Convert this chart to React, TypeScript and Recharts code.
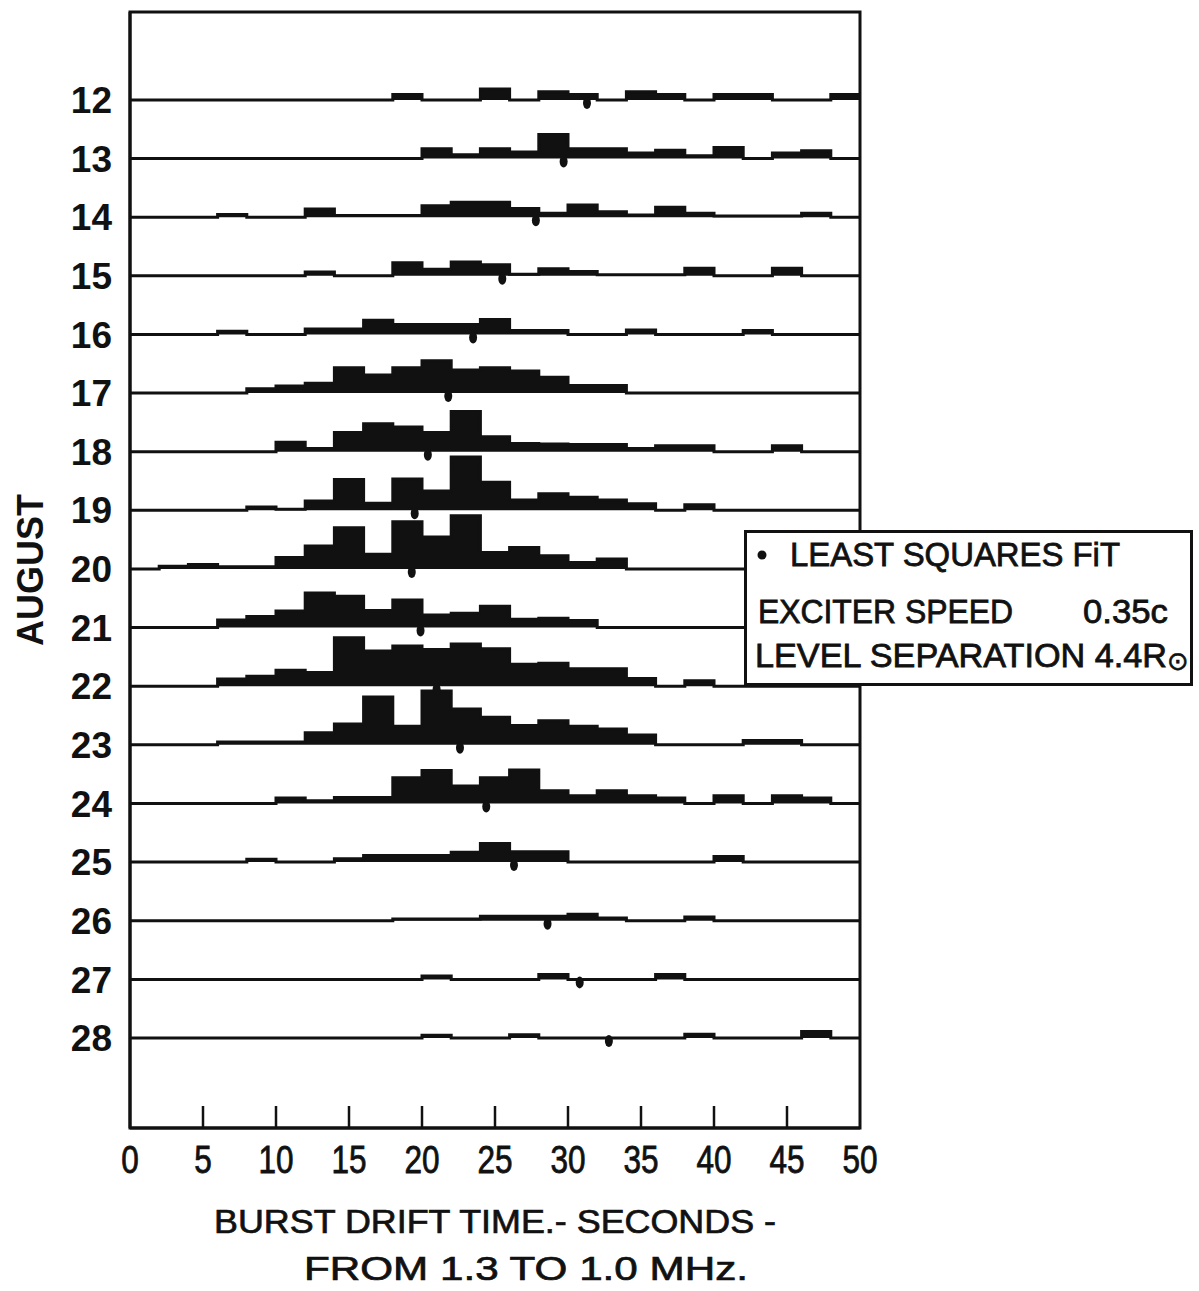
import { ComposedChart, Area, Scatter, XAxis, YAxis, ReferenceArea, Legend, Label } from "recharts";

const FONT = "'Liberation Sans', Arial, sans-serif";
const INK = "#111";

// August days, one histogram row each
const days = [12, 13, 14, 15, 16, 17, 18, 19, 20, 21, 22, 23, 24, 25, 26, 27, 28];

// 2 second bins of burst drift time
const binStarts = [0, 2, 4, 6, 8, 10, 12, 14, 16, 18, 20, 22, 24, 26, 28, 30, 32, 34, 36, 38, 40, 42, 44, 46, 48];

// relative burst counts per bin
const aug12 = [0, 0, 0, 0, 0, 0, 0, 0, 0, 1, 0, 0, 2, 0, 1.5, 1, 0, 1.5, 1, 0, 1, 1, 0, 0, 1];
const aug13 = [0, 0, 0, 0, 0, 0, 0, 0, 0, 0, 1.8, 0.7, 1.8, 1.2, 4.4, 1.8, 1.8, 1, 1.5, 0.5, 2, 0, 1, 1.4, 0];
const aug14 = [0, 0, 0, 0.5, 0, 0, 1.5, 0.3, 0.3, 0.3, 2.1, 2.7, 2.7, 1.6, 0.7, 2.2, 1, 0.4, 1.8, 0.7, 0.2, 0.2, 0.2, 0.7, 0];
const aug15 = [0, 0, 0, 0, 0, 0, 0.7, 0, 0, 2.4, 1.2, 2.5, 2, 0.3, 1.3, 0.8, 0.2, 0.2, 0.2, 1.4, 0, 0, 1.4, 0, 0];
const aug16 = [0, 0, 0, 0.6, 0, 0, 1, 1, 2.6, 1.8, 1.8, 1.8, 2.7, 0.7, 0.7, 0, 0, 0.8, 0, 0, 0, 0.7, 0, 0, 0];
const aug17 = [0, 0, 0, 0, 0.8, 1.3, 1.8, 4.6, 3.3, 4.6, 5.9, 4.2, 4.6, 4, 2.9, 1.4, 1.4, 0, 0, 0, 0, 0, 0, 0, 0];
const aug18 = [0, 0, 0, 0, 0, 1.7, 0.6, 3.5, 5.1, 4.5, 3.5, 7.3, 2.7, 1.5, 1.4, 1.3, 1.3, 0.6, 1.1, 1.1, 0, 0, 1.1, 0, 0];
const aug19 = [0, 0, 0, 0, 0.6, 0.2, 1.7, 5.6, 1.3, 5.7, 3.5, 9.7, 5.1, 1.9, 3, 2.4, 1.9, 1.2, 0, 1, 0, 0, 0, 0, 0];
const aug20 = [0, 0.5, 0.8, 0.4, 0.4, 2.1, 4.2, 7.5, 2.7, 8.6, 5.8, 9.7, 3, 3.9, 2.4, 1.2, 1.8, 0, 0, 0, 0, 0, 0, 0, 0];
const aug21 = [0, 0, 0, 1.4, 2, 3, 6.3, 5.7, 3.1, 5, 2.3, 2.6, 3.9, 1.5, 1.7, 1.3, 0, 0, 0, 0, 0, 0, 0, 0, 0];
const aug22 = [0, 0, 0, 1.3, 1.8, 2.9, 2.5, 8.8, 6.4, 7.3, 6.7, 7.7, 6.8, 4, 4.2, 3.2, 3.2, 1.4, 0, 1, 0, 0, 0, 0, 0];
const aug23 = [0, 0, 0, 0.5, 0.5, 0.5, 2.2, 3.8, 8.7, 3.4, 9.8, 6.5, 5, 3.5, 4.4, 3.4, 2.9, 1.8, 0, 0, 0, 0.8, 0.8, 0, 0];
const aug24 = [0, 0, 0, 0, 0, 1, 0.5, 1.1, 1.1, 4.7, 6, 3.2, 4.7, 6.1, 2.3, 1.4, 2.3, 1.4, 1, 0, 1.4, 0, 1.4, 1, 0];
const aug25 = [0, 0, 0, 0, 0.5, 0, 0, 0.6, 1.2, 1.2, 1.2, 1.8, 3.4, 1.9, 1.9, 0, 0, 0, 0, 0, 1, 0, 0, 0, 0];
const aug26 = [0, 0, 0, 0, 0, 0, 0, 0, 0, 0.3, 0.3, 0.3, 0.8, 0.8, 0.8, 1.2, 0.5, 0, 0, 0.7, 0, 0, 0, 0, 0];
const aug27 = [0, 0, 0, 0, 0, 0, 0, 0, 0, 0, 0.6, 0, 0, 0, 0.9, 0, 0, 0, 0.9, 0, 0, 0, 0, 0, 0];
const aug28 = [0, 0, 0, 0, 0, 0, 0, 0, 0, 0, 0.5, 0, 0, 0.6, 0, 0, 0, 0, 0, 0.7, 0, 0, 0, 1.2, 0];

// least squares fit drift time per day (seconds)
const fitTimes = [31.3, 29.7, 27.8, 25.5, 23.5, 21.8, 20.4, 19.5, 19.3, 19.9, 21.0, 22.6, 24.4, 26.3, 28.6, 30.8, 32.8];

const xTicks = [0, 5, 10, 15, 20, 25, 30, 35, 40, 45, 50];

const counts: Record<number, number[]> = {
    12: aug12, 13: aug13, 14: aug14, 15: aug15, 16: aug16, 17: aug17, 18: aug18, 19: aug19, 20: aug20,
    21: aug21, 22: aug22, 23: aug23, 24: aug24, 25: aug25, 26: aug26, 27: aug27, 28: aug28
};

const UNIT = 0.0938; // one count, in row spacings
const Y_DOMAIN: [number, number] = [10.5, 29.535];

// each row is drawn from its own baseline (the day value) upwards
const tableData = [...binStarts, 50].map((x, i) => {
    const row: Record<string, number> = { x };
    days.forEach((d) => {
        const h = counts[d];
        const v = i < h.length ? h[i] : h[h.length - 1];
        row[`d${d}`] = d - v * UNIT;
    });
    return row;
});

const fitData = days.map((d, i) => ({ x: fitTimes[i], y: d }));

function XTick({ x, y, payload }: any) {
    const v = payload.value;
    return (
        <g>
            {v > 0 && v < 50 && (
                <line x1={x} x2={x} y1={y} y2={y - 22} stroke={INK} strokeWidth={2.5} />
            )}
            <text
                transform={`translate(${x} ${y + 45}) scale(0.83 1)`}
                textAnchor="middle"
                fontSize={38}
                fontFamily={FONT}
                fill={INK}
                stroke={INK}
                strokeWidth={0.8}
            >
                {v}
            </text>
        </g>
    );
}

function FitDot({ cx, cy }: any) {
    return <ellipse cx={cx} cy={cy + 3} rx={4} ry={6} fill={INK} />;
}

function LegendBox() {
    const t = {
        fontFamily: FONT,
        fontSize: 34,
        fill: INK,
        stroke: INK,
        strokeWidth: 0.8,
        lengthAdjust: "spacingAndGlyphs" as const
    };
    return (
        <svg width={449} height={156} style={{ display: "block" }}>
            <rect x={1.5} y={1.5} width={446} height={153} fill="#fff" stroke={INK} strokeWidth={3} />
            <circle cx={18} cy={25} r={4.5} fill={INK} />
            <text x={46} y={36} textLength={330} {...t}>LEAST SQUARES FiT</text>
            <text x={14} y={93} textLength={255} {...t}>EXCITER SPEED</text>
            <text x={339} y={93} textLength={85} {...t}>0.35c</text>
            <text x={11} y={137} textLength={412} {...t}>LEVEL SEPARATION 4.4R</text>
            <text x={423} y={140} fontFamily="'DejaVu Sans', sans-serif" fontSize={26} fill={INK} stroke={INK} strokeWidth={0.6}>⊙</text>
        </svg>
    );
}

function XTitle({ viewBox }: any) {
    const cx = viewBox.x + viewBox.width / 2;
    return (
        <g fontFamily={FONT} fontSize={33} fill={INK} stroke={INK} strokeWidth={0.7}>
            <text x={cx} y={viewBox.y + 105} textAnchor="middle" textLength={562} lengthAdjust="spacingAndGlyphs">
                BURST DRIFT TIME.- SECONDS -
            </text>
            <text x={cx + 31} y={viewBox.y + 152} textAnchor="middle" textLength={444} lengthAdjust="spacingAndGlyphs">
                FROM 1.3 TO 1.0 MHz.
            </text>
        </g>
    );
}

function YTitle({ viewBox }: any) {
    const cy = viewBox.y + viewBox.height / 2;
    return (
        <text
            transform={`translate(43 ${cy}) rotate(-90)`}
            textAnchor="middle"
            fontFamily={FONT}
            fontSize={37}
            fontWeight={700}
            fill={INK}
            textLength={152}
            lengthAdjust="spacingAndGlyphs"
        >
            AUGUST
        </text>
    );
}

function App() {
    return (
        <div style={{ position: "absolute", left: 0, top: 0, width: 1199, height: 1291, background: "#fff" }}>
            <ComposedChart
                width={1199}
                height={1291}
                data={tableData}
                margin={{ top: 12, right: 339, bottom: 0, left: 0 }}
            >
                <XAxis
                    type="number"
                    dataKey="x"
                    domain={[0, 50]}
                    ticks={xTicks}
                    interval={0}
                    allowDataOverflow
                    height={163}
                    tickSize={0}
                    tickMargin={0}
                    tickLine={false}
                    axisLine={{ stroke: INK, strokeWidth: 3 }}
                    tick={<XTick />}
                >
                    <Label content={<XTitle />} />
                </XAxis>
                <YAxis
                    type="number"
                    domain={Y_DOMAIN}
                    reversed
                    allowDataOverflow
                    ticks={days}
                    interval={0}
                    width={130}
                    tickSize={0}
                    tickMargin={18}
                    tickLine={false}
                    axisLine={{ stroke: INK, strokeWidth: 3 }}
                    tick={{ fill: INK, fontSize: 37, fontWeight: 700, fontFamily: FONT }}
                >
                    <Label content={<YTitle />} />
                </YAxis>

                <ReferenceArea
                    x1={0}
                    x2={50}
                    y1={Y_DOMAIN[0]}
                    y2={Y_DOMAIN[1]}
                    fill="none"
                    stroke={INK}
                    strokeWidth={3}
                    ifOverflow="visible"
                />

                {days.map((d) => (
                    <Area
                        key={d}
                        dataKey={`d${d}`}
                        type="stepAfter"
                        baseValue={d}
                        stroke={INK}
                        strokeWidth={3}
                        fill={INK}
                        fillOpacity={1}
                        dot={false}
                        activeDot={false}
                        isAnimationActive={false}
                    />
                ))}

                <Scatter data={fitData} dataKey="y" shape={<FitDot />} isAnimationActive={false} />

                <Legend
                    layout="horizontal"
                    verticalAlign="middle"
                    align="center"
                    content={<LegendBox />}
                    wrapperStyle={{ left: 744, top: 530, width: 449, height: 156 }}
                />
            </ComposedChart>
        </div>
    );
}

export default App;
